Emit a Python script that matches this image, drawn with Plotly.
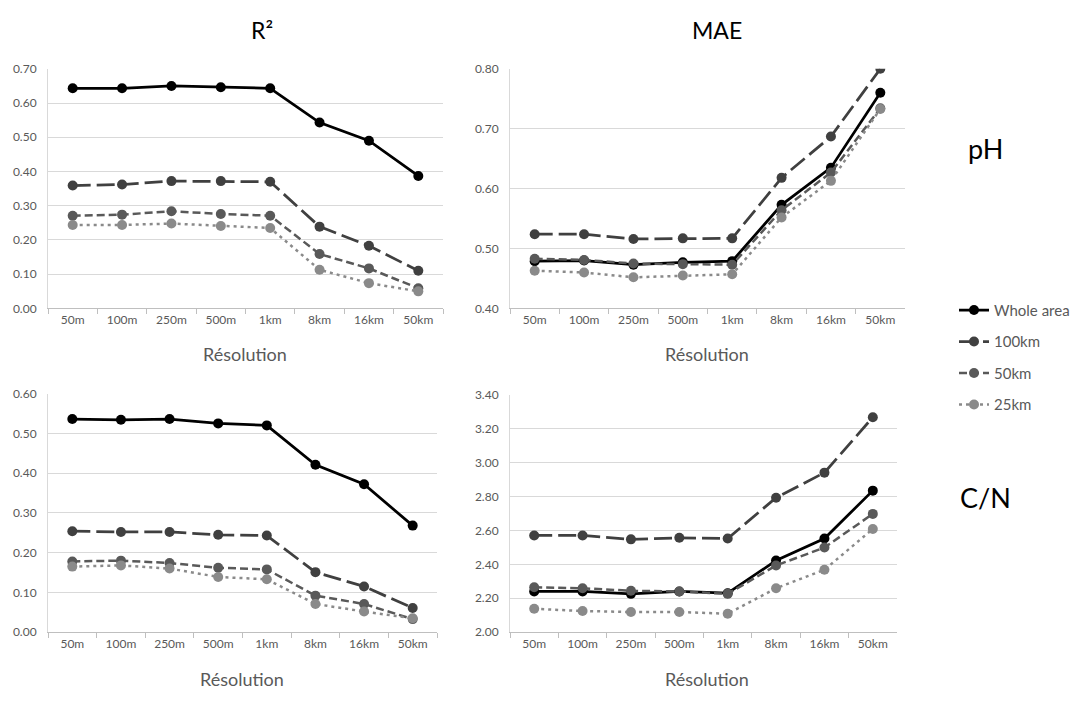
import plotly.graph_objects as go

categories = ['50m', '100m', '250m', '500m', '1km', '8km', '16km', '50km']
series_names = ['Whole area', '100km', '50km', '25km']

# R² pH
r2_ph_whole = [0.643, 0.643, 0.650, 0.646, 0.643, 0.543, 0.490, 0.387]
r2_ph_100 = [0.359, 0.362, 0.372, 0.372, 0.370, 0.239, 0.183, 0.110]
r2_ph_50 = [0.271, 0.274, 0.284, 0.276, 0.271, 0.159, 0.117, 0.059]
r2_ph_25 = [0.244, 0.244, 0.248, 0.241, 0.235, 0.113, 0.074, 0.050]

# MAE pH
mae_ph_whole = [0.479, 0.480, 0.473, 0.477, 0.479, 0.573, 0.635, 0.760]
mae_ph_100 = [0.524, 0.524, 0.516, 0.517, 0.517, 0.618, 0.687, 0.800]
mae_ph_50 = [0.483, 0.481, 0.475, 0.474, 0.473, 0.564, 0.627, 0.734]
mae_ph_25 = [0.463, 0.460, 0.452, 0.455, 0.457, 0.552, 0.613, 0.733]

# R² C/N
r2_cn_whole = [0.536, 0.534, 0.536, 0.525, 0.520, 0.421, 0.372, 0.268]
r2_cn_100 = [0.254, 0.252, 0.252, 0.245, 0.243, 0.151, 0.115, 0.061]
r2_cn_50 = [0.178, 0.180, 0.174, 0.162, 0.158, 0.092, 0.071, 0.033]
r2_cn_25 = [0.165, 0.168, 0.160, 0.139, 0.133, 0.071, 0.052, 0.035]

# MAE C/N
mae_cn_whole = [2.240, 2.240, 2.226, 2.240, 2.230, 2.422, 2.552, 2.834]
mae_cn_100 = [2.570, 2.570, 2.547, 2.556, 2.552, 2.792, 2.940, 3.266]
mae_cn_50 = [2.265, 2.259, 2.244, 2.240, 2.226, 2.393, 2.499, 2.697]
mae_cn_25 = [2.138, 2.125, 2.119, 2.119, 2.109, 2.259, 2.368, 2.608]

panels = [
    ('x', 'y', [r2_ph_whole, r2_ph_100, r2_ph_50, r2_ph_25]),
    ('x2', 'y2', [mae_ph_whole, mae_ph_100, mae_ph_50, mae_ph_25]),
    ('x3', 'y3', [r2_cn_whole, r2_cn_100, r2_cn_50, r2_cn_25]),
    ('x4', 'y4', [mae_cn_whole, mae_cn_100, mae_cn_50, mae_cn_25]),
]

styles = [
    dict(color='#000000', dash='solid', width=2.75),
    dict(color='#404040', dash='18px,6px', width=2.75),
    dict(color='#595959', dash='8px,4px', width=2.5),
    dict(color='#8a8a8a', dash='3px,4px', width=2.5),
]

FONT = 'Lato, Open Sans, sans-serif'

fig = go.Figure()
for pi, (xa, ya, vals) in enumerate(panels):
    for si, name in enumerate(series_names):
        st = styles[si]
        fig.add_trace(go.Scatter(
            x=categories, y=vals[si], name=name, xaxis=xa, yaxis=ya,
            mode='lines+markers',
            line=dict(color=st['color'], dash=st['dash'], width=st['width']),
            marker=dict(color=st['color'], size=10),
            legendgroup=name, showlegend=(pi == 0),
        ))

# page body has an 8px default margin; figure sized to fit the 1086x702 window
OFF = 8
W, H = 1086 - 2 * OFF, 702 - 2 * OFF
def px_x(p):
    return (p - OFF) / W
def px_y(p):
    return 1 - (p - OFF) / H

axis_common_x = dict(
    type='category', range=[-0.5, 7.5], showgrid=False, showline=True,
    linecolor='#bfbfbf', linewidth=1, ticks='outside', tickson='boundaries',
    ticklen=5, tickcolor='#bfbfbf', tickfont=dict(size=12, color='#595959', family=FONT),
    zeroline=False, fixedrange=True,
)
axis_common_y = dict(
    showgrid=True, gridcolor='#d9d9d9', gridwidth=1, showline=True,
    linecolor='#d9d9d9', linewidth=1, ticks='', tickformat='.2f',
    ticklabelstandoff=8,
    tickfont=dict(size=12, color='#595959', family=FONT), zeroline=False,
)

domains = {
    '': ([48, 443], [62, 307]),
    '2': ([510, 905], [62, 307]),
    '3': ([48, 437], [394, 638]),
    '4': ([510, 897], [395, 638]),
}
yranges = {'': [0, 0.70], '2': [0.40, 0.80], '3': [0, 0.60], '4': [2.0, 3.4]}
ydticks = {'': 0.1, '2': 0.1, '3': 0.1, '4': 0.2}

layout = dict(
    width=W, height=H, margin=dict(l=0, r=0, t=0, b=0),
    paper_bgcolor='white', plot_bgcolor='white',
    font=dict(family=FONT, color='#595959'),
    showlegend=True,
    legend=dict(x=px_x(954), y=px_y(292), xanchor='left', yanchor='top',
                font=dict(size=15, color='#595959', family=FONT),
                tracegroupgap=9, bgcolor='rgba(0,0,0,0)'),
)
for k, (xd, yd) in domains.items():
    layout['xaxis' + k] = dict(axis_common_x, domain=[px_x(xd[0]), px_x(xd[1])],
                               anchor='y' + k)
    layout['yaxis' + k] = dict(axis_common_y, domain=[px_y(yd[1]), px_y(yd[0])],
                               range=yranges[k], dtick=ydticks[k], anchor='x' + k)
fig.update_layout(**layout)

annotations = [
    dict(text='R²', x=262, y=22, size=23, color='#000000'),
    dict(text='MAE', x=717, y=22, size=23, color='#000000'),
    dict(text='pH', x=985, y=143, size=27, color='#000000'),
    dict(text='C/N', x=985, y=500, size=27, color='#000000'),
    dict(text='Résolution', x=245, y=354, size=18, color='#595959'),
    dict(text='Résolution', x=707, y=354, size=18, color='#595959'),
    dict(text='Résolution', x=242, y=686, size=18, color='#595959'),
    dict(text='Résolution', x=707, y=686, size=18, color='#595959'),
]
for a in annotations:
    fig.add_annotation(text=a['text'], x=px_x(a['x']), y=px_y(a['y']),
                       xref='paper', yref='paper', showarrow=False,
                       xanchor='center', yanchor='middle',
                       font=dict(size=a['size'], color=a['color'], family=FONT))

fig.write_html('out.html', config={'displayModeBar': False})
